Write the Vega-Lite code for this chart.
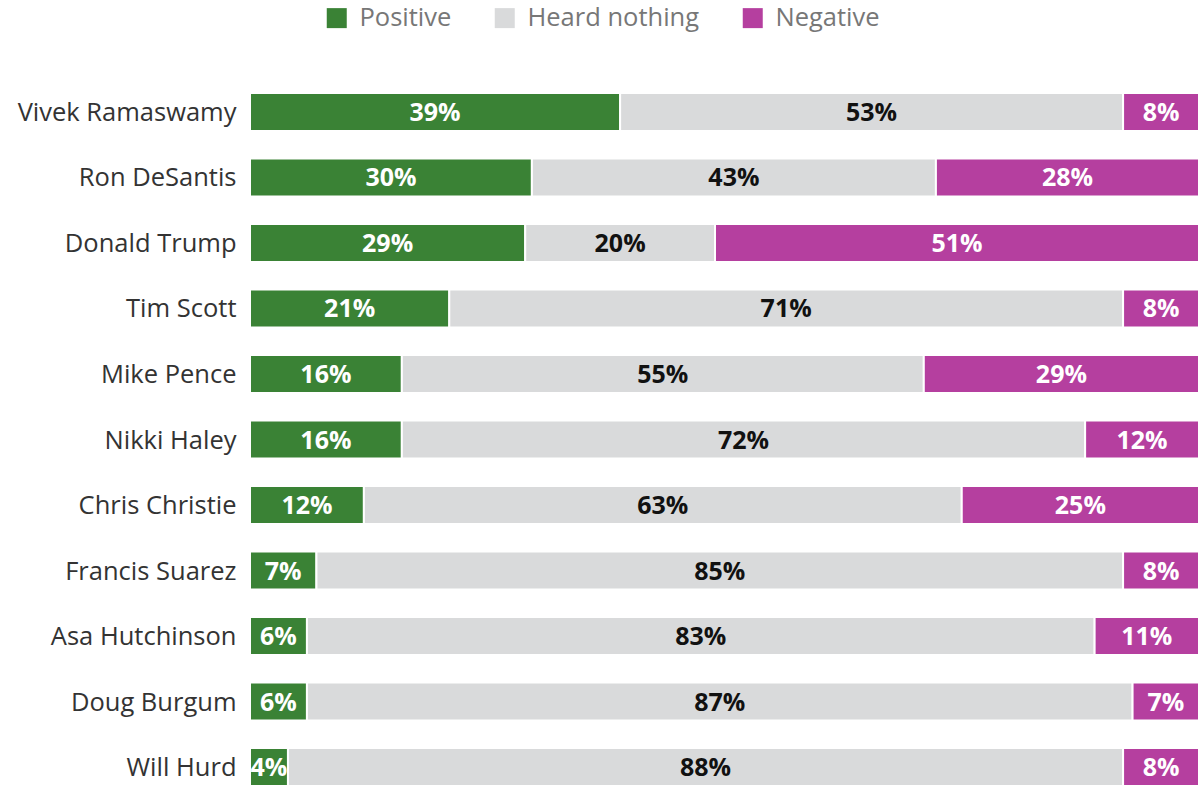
{
  "$schema": "https://vega.github.io/schema/vega-lite/v6.json",
  "width": 949,
  "height": 693,
  "autosize": {"type": "none"},
  "padding": {"left": 250, "top": 93, "right": 0, "bottom": 0},
  "background": "white",
  "config": {"view": {"stroke": null}, "font": "Open Sans"},
  "data": {"values": [
    {"name": "Vivek Ramaswamy", "response": "Positive", "pct": 39},
    {"name": "Vivek Ramaswamy", "response": "Heard nothing", "pct": 53},
    {"name": "Vivek Ramaswamy", "response": "Negative", "pct": 8},
    {"name": "Ron DeSantis", "response": "Positive", "pct": 30},
    {"name": "Ron DeSantis", "response": "Heard nothing", "pct": 43},
    {"name": "Ron DeSantis", "response": "Negative", "pct": 28},
    {"name": "Donald Trump", "response": "Positive", "pct": 29},
    {"name": "Donald Trump", "response": "Heard nothing", "pct": 20},
    {"name": "Donald Trump", "response": "Negative", "pct": 51},
    {"name": "Tim Scott", "response": "Positive", "pct": 21},
    {"name": "Tim Scott", "response": "Heard nothing", "pct": 71},
    {"name": "Tim Scott", "response": "Negative", "pct": 8},
    {"name": "Mike Pence", "response": "Positive", "pct": 16},
    {"name": "Mike Pence", "response": "Heard nothing", "pct": 55},
    {"name": "Mike Pence", "response": "Negative", "pct": 29},
    {"name": "Nikki Haley", "response": "Positive", "pct": 16},
    {"name": "Nikki Haley", "response": "Heard nothing", "pct": 72},
    {"name": "Nikki Haley", "response": "Negative", "pct": 12},
    {"name": "Chris Christie", "response": "Positive", "pct": 12},
    {"name": "Chris Christie", "response": "Heard nothing", "pct": 63},
    {"name": "Chris Christie", "response": "Negative", "pct": 25},
    {"name": "Francis Suarez", "response": "Positive", "pct": 7},
    {"name": "Francis Suarez", "response": "Heard nothing", "pct": 85},
    {"name": "Francis Suarez", "response": "Negative", "pct": 8},
    {"name": "Asa Hutchinson", "response": "Positive", "pct": 6},
    {"name": "Asa Hutchinson", "response": "Heard nothing", "pct": 83},
    {"name": "Asa Hutchinson", "response": "Negative", "pct": 11},
    {"name": "Doug Burgum", "response": "Positive", "pct": 6},
    {"name": "Doug Burgum", "response": "Heard nothing", "pct": 87},
    {"name": "Doug Burgum", "response": "Negative", "pct": 7},
    {"name": "Will Hurd", "response": "Positive", "pct": 4},
    {"name": "Will Hurd", "response": "Heard nothing", "pct": 88},
    {"name": "Will Hurd", "response": "Negative", "pct": 8}
  ]},
  "transform": [
    {"calculate": "indexof(['Positive','Heard nothing','Negative'], datum.response)", "as": "ord"},
    {"calculate": "datum.pct + '%'", "as": "label"}
  ],
  "encoding": {
    "y": {
      "field": "name", "type": "nominal", "sort": null,
      "scale": {"paddingInner": 0.42, "paddingOuter": 0},
      "axis": {"title": null, "domain": false, "ticks": false, "labelFontSize": 25.5, "labelColor": "#333333", "labelPadding": 14, "labelFont": "Open Sans", "labelLimit": 400, "labelOffset": 1}
    },
    "x": {
      "field": "pct", "type": "quantitative", "stack": "normalize",
      "scale": {"domain": [0, 1], "nice": false},
      "axis": null
    },
    "order": {"field": "ord", "type": "quantitative"}
  },
  "layer": [
    {
      "mark": {"type": "bar", "stroke": "white", "strokeWidth": 2},
      "encoding": {
        "color": {
          "field": "response", "type": "nominal",
          "scale": {"domain": ["Positive", "Heard nothing", "Negative"], "range": ["#3a8235", "#d9dadb", "#b53f9f"]},
          "legend": {
            "title": null, "orient": "none", "direction": "horizontal",
            "legendX": 74, "legendY": -88,
            "symbolType": "square", "symbolSize": 400, "symbolStrokeWidth": 0,
            "labelFontSize": 25.5, "labelColor": "#777777", "labelFont": "Open Sans",
            "columnPadding": 40, "labelOffset": 10, "labelLimit": 300
          }
        }
      }
    },
    {
      "mark": {"type": "text", "fontSize": 25, "fontWeight": "bold", "font": "Open Sans", "baseline": "middle", "align": "center", "dy": 1},
      "encoding": {
        "x": {"field": "pct", "type": "quantitative", "stack": "normalize", "bandPosition": 0.5},
        "text": {"field": "label"},
        "color": {"condition": {"test": "datum.response === 'Heard nothing'", "value": "#111111"}, "value": "white"}
      }
    }
  ]
}
